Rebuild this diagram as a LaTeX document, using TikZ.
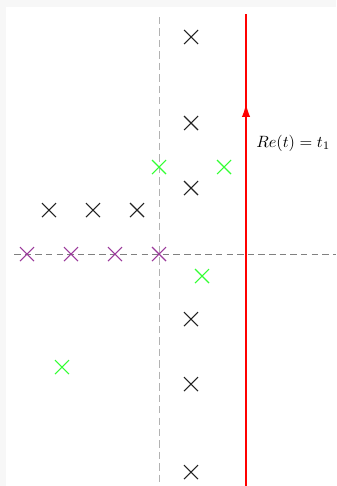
\documentclass[tikz,border=0pt]{standalone}
\usetikzlibrary{shapes.misc,decorations.markings,arrows.meta}
\definecolor{bgedge}{HTML}{F7F7F7}
\definecolor{xgreen}{HTML}{33FF33}
\definecolor{xpurple}{HTML}{9B3A9B}
\definecolor{xblack}{HTML}{222222}
\begin{document}
\begin{tikzpicture}[x=0.0215cm,y=-0.0215cm,
  pole/.style={cross out,draw=xblack,line width=0.65pt,minimum size=14*0.0215cm,inner sep=0pt,outer sep=0pt},
  gpole/.style={pole,draw=xgreen},
  ppole/.style={pole,draw=xpurple},
  vaxis/.style={draw=black!30,dashed,dash pattern=on 4.5pt off 2.5pt,line width=0.6pt},
  haxis/.style={draw=black!50,dashed,dash pattern=on 4pt off 2.5pt,line width=0.5pt},
  contour/.style={draw=red,line width=0.8pt,postaction={decorate},
    decoration={markings,mark=at position 0.81 with {\arrow{Latex[length=8pt,width=5pt]}}}}]
\useasboundingbox (0,0) rectangle (336,486);
\fill[bgedge] (0,0) rectangle (336,486);
\fill[white] (6,7) rectangle (336,486);
% axes
\coordinate (vtop) at (159,17);
\coordinate (vbot) at (159,486);
\coordinate (hleft) at (14,254);
\coordinate (hright) at (336,254);
\draw[vaxis] (vtop) -- (vbot);
\draw[haxis] (hleft) -- (hright);
% contour
\coordinate (cbot) at (246,486);
\coordinate (ctop) at (246,14);
\draw[contour] (cbot) -- (ctop);
\node[anchor=west,inner sep=0pt] (lab) at (256,143) {$Re(t)=t_1$};
% black poles
\node[pole] (b1) at (191,37) {};
\node[pole] (b2) at (191,123) {};
\node[pole] (b3) at (191,188) {};
\node[pole] (b4) at (49,210) {};
\node[pole] (b5) at (93,210) {};
\node[pole] (b6) at (137,210) {};
\node[pole] (b7) at (191,319) {};
\node[pole] (b8) at (191,384) {};
\node[pole] (b9) at (191,472) {};
% green poles
\node[gpole] (g1) at (159,167) {};
\node[gpole] (g2) at (224,167) {};
\node[gpole] (g3) at (202,276) {};
\node[gpole] (g4) at (62,367) {};
% purple poles
\node[ppole] (p1) at (27,254) {};
\node[ppole] (p2) at (71,254) {};
\node[ppole] (p3) at (115,254) {};
\node[ppole] (p4) at (159,254) {};
\end{tikzpicture}
\end{document}
